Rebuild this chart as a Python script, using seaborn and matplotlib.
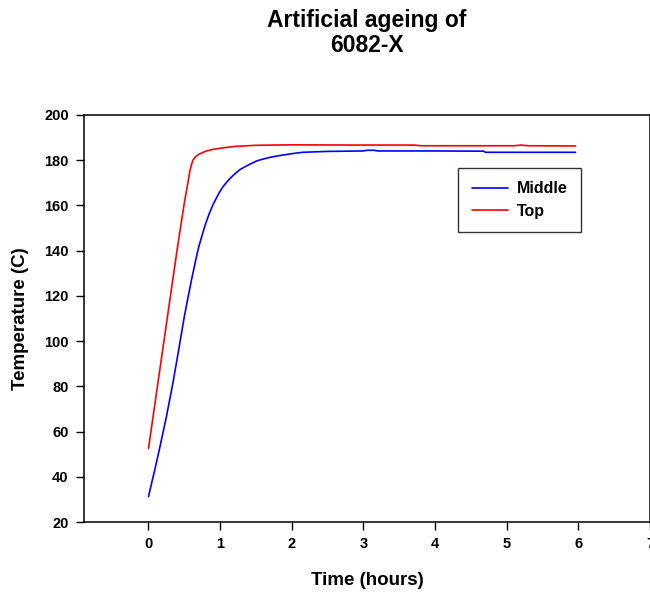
import matplotlib
matplotlib.use("Agg")
import matplotlib.pyplot as plt
import seaborn as sns
import pandas as pd

# Time (hours) and temperature (C) for the two thermocouple positions
top_time = [0.0, 0.1, 0.2, 0.3, 0.4, 0.5, 0.55, 0.58, 0.6, 0.62, 0.65, 0.7, 0.8,
            0.9, 1.0, 1.2, 1.5, 2.0, 3.0, 3.7, 3.8, 4.5, 5.1, 5.2, 5.3, 5.96]
top_temp = [52.5, 74.5, 96.5, 118.5, 140.5, 161.0, 170.0, 175.5, 178.0, 180.0,
            181.3, 182.6, 184.0, 184.8, 185.3, 186.1, 186.6, 186.8, 186.7, 186.7,
            186.4, 186.4, 186.4, 186.7, 186.4, 186.3]

mid_time = [0.0, 0.08, 0.15, 0.25, 0.34, 0.42, 0.5, 0.55, 0.6, 0.66, 0.7, 0.75,
            0.8, 0.85, 0.9, 0.95, 1.0, 1.04, 1.1, 1.15, 1.2, 1.27, 1.3, 1.4, 1.52,
            1.6, 1.7, 1.8, 2.0, 2.15, 2.5, 3.0, 3.05, 3.15, 3.2, 3.5, 4.0, 4.68,
            4.7, 5.5, 5.96]
mid_temp = [31.2, 42.0, 51.8, 66.5, 81.3, 95.8, 110.8, 119.0, 127.0, 135.9, 141.5,
            147.0, 152.2, 156.5, 160.3, 163.4, 166.3, 168.3, 170.6, 172.3, 173.8,
            175.7, 176.3, 178.0, 179.8, 180.5, 181.3, 181.9, 182.9, 183.5, 183.9,
            184.1, 184.4, 184.4, 184.1, 184.1, 184.1, 184.0, 183.5, 183.5, 183.5]

series_names = ["Middle", "Top"]
series_colors = ["#0000ff", "#ff0000"]
x_ticks = [0, 1, 2, 3, 4, 5, 6, 7]
y_ticks = [20, 40, 60, 80, 100, 120, 140, 160, 180, 200]

df = pd.concat([
    pd.DataFrame({"Time": mid_time, "Temp": mid_temp, "Position": series_names[0]}),
    pd.DataFrame({"Time": top_time, "Temp": top_temp, "Position": series_names[1]}),
], ignore_index=True)

sns.set_style("ticks")
plt.rcParams["font.family"] = ["Liberation Sans", "DejaVu Sans"]
plt.rcParams["font.weight"] = "bold"
plt.rcParams["text.color"] = "black"
plt.rcParams["axes.labelcolor"] = "black"
plt.rcParams["xtick.color"] = "black"
plt.rcParams["ytick.color"] = "black"

fig = plt.figure(figsize=(6.5, 5.92), dpi=100)
ax = fig.add_axes([84 / 650, 1 - 522 / 592, 566 / 650, 407 / 592])

sns.lineplot(data=df, x="Time", y="Temp", hue="Position", sort=False,
             palette=dict(zip(series_names, series_colors)), linewidth=1.2,
             ax=ax, estimator=None)

ax.set_xlim(-0.9, 7)
ax.set_ylim(20, 200)
ax.set_xticks(x_ticks)
ax.set_yticks(y_ticks)
ax.tick_params(axis="both", direction="out", length=6, width=1, labelsize=10.5,
               pad=5, colors="black")
for lbl in ax.get_xticklabels() + ax.get_yticklabels():
    lbl.set_fontweight("bold")
for s in ax.spines.values():
    s.set_visible(True)
    s.set_linewidth(1.1)
    s.set_color("black")

ax.set_xlabel("Time (hours)", fontsize=13.5, fontweight="bold", labelpad=15,
              color="black")
ax.set_ylabel("Temperature (C)", fontsize=13.5, fontweight="bold", labelpad=11,
              color="black")

leg = ax.legend(loc="upper left", bbox_to_anchor=(0.661, 0.870), fancybox=False,
                frameon=True, edgecolor="black", fontsize=11.5, handlelength=2.25,
                borderpad=0.85, labelspacing=0.45, borderaxespad=0,
                handletextpad=0.55)
leg.get_frame().set_linewidth(1.0)
for t in leg.get_texts():
    t.set_fontweight("bold")
    t.set_color("black")

fig.text(367 / 650, 1 - 33 / 592, "Artificial ageing of\n6082-X", ha="center",
         va="center", fontsize=16.5, fontweight="bold", linespacing=1.15,
         color="black")

fig.savefig("out.png", dpi=100, facecolor="white")
